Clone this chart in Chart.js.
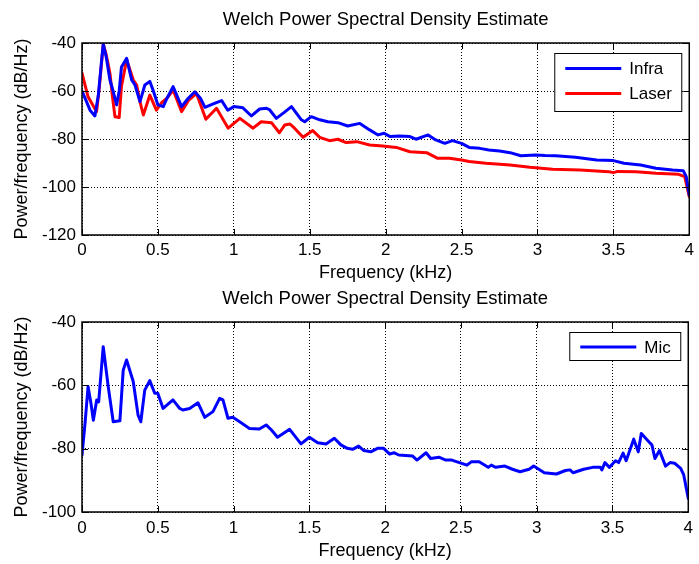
<!DOCTYPE html>
<html>
<head>
<meta charset="utf-8">
<script src="https://cdn.jsdelivr.net/npm/chart.js@4"></script>
<style>
  html, body { margin: 0; padding: 0; background: #fff; }
  body { width: 699px; height: 564px; position: relative; overflow: hidden; }
  canvas { position: absolute; left: 0; }
  #c1 { top: 0; }
  #c2 { top: 284px; }
</style>
</head>
<body>
<canvas id="c1" width="699" height="284"></canvas>
<canvas id="c2" width="699" height="280"></canvas>
<script>
// ---- data (frequency in kHz, PSD in dB/Hz) ----
const infraFreq = [0,0.02,0.053,0.085,0.107,0.125,0.14,0.16,0.184,0.205,0.228,0.245,0.26,0.294,0.327,0.349,0.382,0.414,0.447,0.47,0.5,0.535,0.56,0.6,0.656,0.7,0.743,0.78,0.81,0.864,0.92,0.96,1.0,1.06,1.116,1.17,1.215,1.237,1.28,1.33,1.38,1.445,1.467,1.51,1.566,1.62,1.686,1.75,1.83,1.895,1.95,1.99,2.03,2.09,2.16,2.2,2.28,2.33,2.39,2.44,2.5,2.55,2.62,2.68,2.75,2.82,2.89,2.99,3.05,3.12,3.25,3.39,3.5,3.57,3.68,3.78,3.89,3.96,3.98,4.0];
const infraDb   = [-60,-63,-68,-70.4,-62,-50,-40.5,-46,-55.4,-60,-65.8,-60,-50,-46.4,-55.4,-57.5,-64.4,-57.5,-56,-60,-65.8,-66.5,-63,-58.2,-66.5,-63,-60.3,-63,-66.8,-65.4,-64,-68,-66.5,-67,-70.4,-67.5,-67.2,-67.9,-71.4,-69,-66.5,-72,-72.8,-70.7,-72,-72.8,-73.2,-74.6,-73.5,-76.2,-78.3,-77.6,-79,-78.8,-79,-80.1,-78.3,-80.4,-81.8,-80.7,-81.8,-83.5,-83.9,-84.6,-85,-85.7,-87,-86.7,-86.9,-87,-87.6,-88.75,-89,-90.1,-90.8,-92.2,-92.9,-93.2,-95.7,-103.3];

const laserFreq = [0,0.04,0.096,0.115,0.14,0.16,0.184,0.2,0.217,0.245,0.26,0.294,0.338,0.36,0.38,0.404,0.447,0.49,0.524,0.56,0.6,0.656,0.7,0.754,0.816,0.886,0.963,1.04,1.127,1.18,1.248,1.3,1.335,1.37,1.4,1.456,1.52,1.566,1.63,1.686,1.74,1.81,1.895,1.98,2.07,2.16,2.27,2.34,2.42,2.5,2.55,2.66,2.82,2.95,3.1,3.28,3.47,3.5,3.53,3.65,3.78,3.93,3.97,4.0];
const laserDb   = [-52.6,-62.4,-68.6,-58,-40.4,-45,-52.6,-62,-70.7,-71,-58,-47,-55.4,-57.5,-64,-70,-61.7,-68,-64.9,-63,-59.6,-68.6,-64,-61,-71.8,-67.2,-75.5,-71.4,-75.5,-72.8,-73.2,-77.4,-74.2,-73.75,-75.5,-79.3,-76.5,-79.3,-80.7,-80.1,-81.5,-81.1,-82.5,-82.9,-83.5,-85.3,-85.7,-88,-88,-88.75,-89.4,-90.1,-90.8,-91.8,-92.6,-92.9,-93.6,-94,-93.5,-93.6,-94.3,-94.7,-95.7,-104];

const micFreq = [0,0.02,0.04,0.06,0.075,0.097,0.11,0.14,0.173,0.206,0.25,0.272,0.294,0.338,0.37,0.388,0.414,0.447,0.48,0.5,0.535,0.6,0.645,0.665,0.71,0.765,0.81,0.864,0.908,0.93,0.963,0.995,1.04,1.105,1.17,1.215,1.25,1.29,1.37,1.445,1.5,1.555,1.61,1.665,1.708,1.75,1.785,1.825,1.86,1.905,1.95,1.99,2.03,2.06,2.09,2.18,2.21,2.27,2.3,2.355,2.4,2.44,2.49,2.54,2.57,2.62,2.68,2.7,2.73,2.79,2.84,2.89,2.95,2.98,3.05,3.13,3.19,3.22,3.24,3.31,3.37,3.42,3.43,3.45,3.48,3.52,3.54,3.57,3.59,3.64,3.67,3.69,3.74,3.76,3.78,3.81,3.85,3.88,3.91,3.95,3.97,4.0];
const micDb   = [-82,-72,-60.4,-66,-71,-64.6,-65.2,-47.8,-60.4,-71.5,-71.2,-55.2,-52,-58.8,-69.4,-71.5,-61.5,-58.5,-62.5,-62.5,-67.3,-64.6,-67.3,-67.8,-67.3,-65.5,-70.1,-68.3,-64.1,-64.6,-70.4,-70.1,-71.5,-73.6,-73.8,-72.5,-74.1,-76.4,-73.9,-78.5,-76.4,-78.1,-78.5,-76.7,-78.8,-79.9,-80.2,-79.2,-80.6,-81,-79.9,-79.9,-81.7,-81.3,-82,-82.3,-83.6,-81.3,-83.1,-82.7,-83.6,-83.6,-84.4,-85.2,-84.1,-84.1,-85.9,-85.2,-85.9,-85.5,-86.5,-87.3,-86.5,-85.5,-87.6,-88,-86.9,-86.7,-87.6,-86.5,-85.9,-85.9,-86.7,-84.4,-85.9,-83.8,-84.4,-81.4,-83.8,-77,-81,-75.2,-77.8,-78.8,-83.1,-80.6,-85.5,-84.4,-84.6,-86.2,-88.3,-95.7];

const xTicks = [0,0.5,1,1.5,2,2.5,3,3.5,4];
const topYTicks = [-120,-100,-80,-60,-40];
const bottomYTicks = [-100,-80,-60,-40];

const titleText = 'Welch Power Spectral Density Estimate';
const xLabel = 'Frequency (kHz)';
const yLabel = 'Power/frequency (dB/Hz)';

// ---- setup ----
Chart.defaults.font.family = '"Liberation Sans", Arial, Helvetica, sans-serif';
Chart.defaults.color = '#000';

function pts(xs, ys) { return xs.map((v, i) => ({x: v, y: ys[i]})); }

const framePlugin = {
  id: 'frame',
  afterDatasetsDraw(chart, args, opts) {
    const {ctx, chartArea: a, scales: {x, y}} = chart;
    ctx.save();
    ctx.strokeStyle = '#000';
    ctx.lineWidth = 1;
    ctx.setLineDash([]);
    ctx.beginPath();
    for (const v of opts.xt) {
      const px = Math.round(x.getPixelForValue(v)) + 0.5;
      ctx.moveTo(px, a.bottom); ctx.lineTo(px, a.bottom - 6);
      ctx.moveTo(px, a.top); ctx.lineTo(px, a.top + 6);
    }
    for (const v of opts.yt) {
      const py = Math.round(y.getPixelForValue(v)) + 0.5;
      ctx.moveTo(a.left, py); ctx.lineTo(a.left + 6, py);
      ctx.moveTo(a.right, py); ctx.lineTo(a.right - 6, py);
    }
    ctx.stroke();
    ctx.lineWidth = 1.5;
    ctx.strokeRect(a.left, a.top, a.width, a.height);

    // legend
    const L = opts.legend;
    const bx = a.right - L.insetRight - L.w;
    const by = a.top + L.insetTop;
    ctx.fillStyle = '#fff';
    ctx.fillRect(bx, by, L.w, L.h);
    ctx.lineWidth = 1;
    ctx.strokeRect(bx + 0.5, by + 0.5, L.w, L.h);
    ctx.font = '17px "Liberation Sans", Arial, sans-serif';
    ctx.textBaseline = 'middle';
    ctx.textAlign = 'left';
    chart.data.datasets.forEach((ds, i) => {
      const cy = by + L.firstRow + i * L.rowGap;
      ctx.strokeStyle = ds.borderColor;
      ctx.lineWidth = 3;
      ctx.beginPath();
      ctx.moveTo(bx + 11, cy); ctx.lineTo(bx + 67, cy);
      ctx.stroke();
      ctx.fillStyle = '#000';
      ctx.fillText(ds.label, bx + 75, cy + 1);
    });
    ctx.restore();
  }
};

function makeChart(id, datasets, yMin, yMax, yTicks, layout) {
  return new Chart(document.getElementById(id), {
    type: 'line',
    data: { datasets },
    plugins: [framePlugin],
    options: {
      responsive: false,
      animation: false,
      devicePixelRatio: 1,
      layout: { padding: { left: 0, right: 9, top: 0, bottom: 0 } },
      elements: { point: { radius: 0 }, line: { tension: 0, borderWidth: 3, borderJoinStyle: 'round', borderCapStyle: 'round' } },
      plugins: {
        legend: { display: false },
        tooltip: { enabled: false },
        title: {
          display: true, text: titleText, fullSize: false,
          font: { size: 18.5, weight: 'normal', lineHeight: 1.2 },
          color: '#000',
          padding: { top: layout.titleTop, bottom: layout.titleBottom }
        },
        frame: { xt: xTicks, yt: yTicks, legend: layout.legend }
      },
      scales: {
        x: {
          type: 'linear', min: 0, max: 4,
          afterBuildTicks: (s) => { s.ticks = xTicks.map(v => ({value: v})); },
          afterFit: (s) => { s.height = layout.xHeight; },
          ticks: { font: { size: 17 }, padding: layout.xTickPad, maxRotation: 0, autoSkip: false,
                   callback: (v) => String(v) },
          grid: { color: '#000', lineWidth: 1, drawTicks: false },
          border: { display: false, dash: [1, 2] },
          title: { display: true, text: xLabel, font: { size: 18, lineHeight: 1.2 }, padding: { top: 0, bottom: layout.xTitleBottom } }
        },
        y: {
          type: 'linear', min: yMin, max: yMax,
          afterBuildTicks: (s) => { s.ticks = yTicks.map(v => ({value: v})); },
          afterFit: (s) => { s.width = 82; },
          ticks: { font: { size: 17 }, padding: 6, autoSkip: false, callback: (v) => String(v) },
          grid: { color: '#000', lineWidth: 1, drawTicks: false },
          border: { display: false, dash: [1, 2] },
          title: { display: true, text: yLabel, font: { size: 18, lineHeight: 1.2 }, padding: { top: 11, bottom: 0 } }
        }
      }
    }
  });
}

makeChart('c1', [
  { label: 'Infra', data: pts(infraFreq, infraDb), borderColor: '#0000ff', backgroundColor: '#0000ff' },
  { label: 'Laser', data: pts(laserFreq, laserDb), borderColor: '#ff0000', backgroundColor: '#ff0000' }
], -120, -40, topYTicks, {
  titleTop: 8.9, titleBottom: 11.9, xHeight: 49, xTickPad: 5, xTitleBottom: 0,
  legend: { w: 127, h: 58, insetRight: 8, insetTop: 10, firstRow: 15.5, rowGap: 25 }
});

makeChart('c2', [
  { label: 'Mic', data: pts(micFreq, micDb), borderColor: '#0000ff', backgroundColor: '#0000ff' }
], -100, -40, bottomYTicks, {
  titleTop: 3.9, titleBottom: 11.9, xHeight: 52, xTickPad: 6, xTitleBottom: 2,
  legend: { w: 111, h: 28, insetRight: 8, insetTop: 10, firstRow: 15, rowGap: 25 }
});
</script>
</body>
</html>
